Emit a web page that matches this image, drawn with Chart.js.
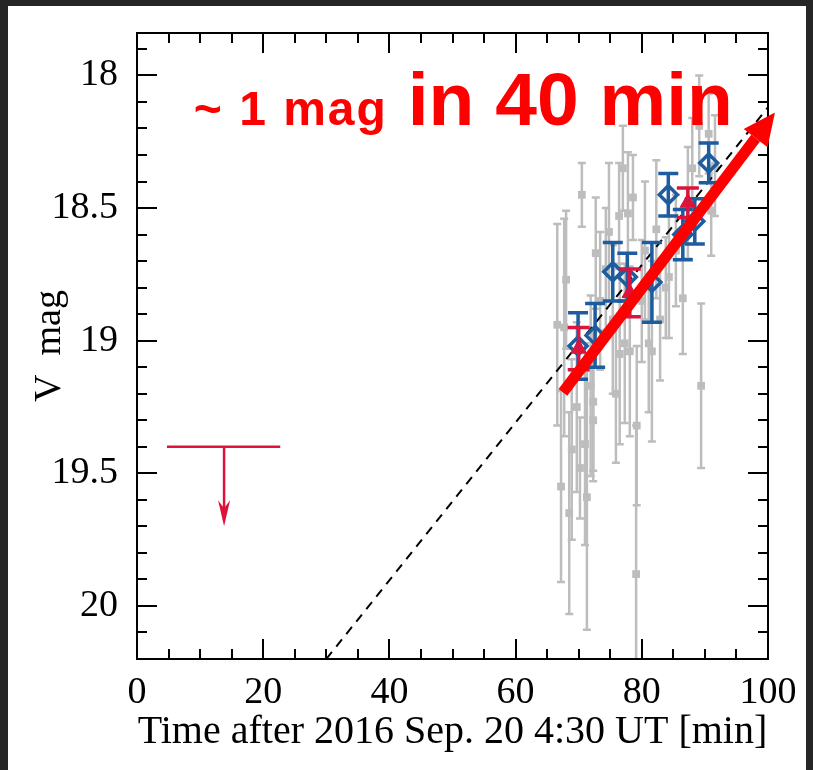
<!DOCTYPE html>
<html>
<head>
<meta charset="utf-8">
<script src="https://cdn.jsdelivr.net/npm/chart.js@4"></script>
<style>
html, body { margin: 0; padding: 0; background: #262626; }
#painel { position: absolute; left: 8px; top: 6px; width: 798px; height: 764px; background: #fff; }
#grafico { position: absolute; left: 0; top: 0; }
</style>
</head>
<body>
<div id="painel"></div>
<canvas id="grafico" width="813" height="770"></canvas>
<script>
/* Pontos cinzas (fotometria individual) */
const tempoCinza = [66.6, 67.7, 67.2, 68.0, 68.5, 68.9, 69.7, 70.5, 71.0, 71.3, 71.9, 72.3, 72.7, 74.8, 75.9, 76.4,
    76.5, 77.0, 77.3, 77.8, 78.1, 78.6, 79.1, 79.2, 81.1, 81.6, 82.3, 83.8, 84.3, 86.5, 88.0, 89.1, 89.4, 90.6,
    91.0, 70.2, 73.4, 74.3, 75.4, 80.0, 80.5, 82.9, 85.4, 87.3, 91.6, 72.3];
const magCinza = [18.94, 18.95, 19.55, 18.77, 19.65, 19.41, 19.25, 18.45, 19.39, 19.59, 19.17, 19.23, 18.67, 18.59,
    19.20, 18.53, 19.05, 18.35, 19.01, 18.52, 19.04, 18.46, 19.88, 19.32, 19.01, 19.04, 18.58, 18.80, 18.76, 18.84,
    18.35, 18.19, 19.17, 18.22, 18.51, 19.48, 18.85, 18.73, 18.92, 18.85, 18.66, 18.92, 18.66, 18.48, 18.34, 19.30];
const erroCinza = [0.38, 0.41, 0.36, 0.26, 0.38, 0.34, 0.32, 0.12, 0.38, 0.50, 0.34, 0.26, 0.21, 0.26, 0.26, 0.20,
    0.34, 0.16, 0.30, 0.23, 0.32, 0.16, 0.56, 0.30, 0.26, 0.34, 0.26, 0.19, 0.23, 0.21, 0.19, 0.19, 0.31, 0.15,
    0.17, 0.19, 0.26, 0.23, 0.28, 0.23, 0.26, 0.23, 0.21, 0.21, 0.19, 0.23];

/* Pontos azuis (losangos, médias) */
const tempoAzul = [69.9, 72.6, 75.4, 77.7, 81.6, 84.2, 86.5, 88.4, 90.6];
const magAzul = [19.02, 18.98, 18.74, 18.76, 18.78, 18.45, 18.60, 18.55, 18.33];
const erroAzul = [0.125, 0.12, 0.11, 0.09, 0.15, 0.08, 0.095, 0.085, 0.075];

/* Pontos vermelhos (triângulos) */
const tempoVermelho = [70.0, 78.1, 87.3];
const magVermelho = [19.03, 18.82, 18.48];
const erroVermelho = [0.08, 0.09, 0.056];

/* Limite superior (barra horizontal + seta para baixo) */
const limiteTempo = [4.75, 13.8, 22.7];
const limiteMag = [19.40, 19.70];

/* Reta de ajuste tracejada */
const ajusteTempo = [30, 100];
const ajusteMag = [20.2, 18.12];

/* Seta vermelha grande */
const setaTempo = [67.5, 101.1];
const setaMag = [19.195, 18.14];

/* Rótulos dos eixos */
const ticksX = [0, 20, 40, 60, 80, 100];
const ticksY = [18, 18.5, 19, 19.5, 20];

const pontos = (xs, ys) => xs.map((x, i) => ({ x: x, y: ys[i] }));

const fonteSerif = "'Liberation Serif', 'Times New Roman', serif";

/* Desenha as barras de erro antes dos pontos de cada conjunto */
const barrasErro = {
    id: "barrasErro",
    beforeDatasetDraw(chart, args) {
        const ds = chart.data.datasets[args.index];
        if (!ds.erros) return;
        const ctx = chart.ctx;
        const sx = chart.scales.x, sy = chart.scales.y;
        const a = chart.chartArea;
        ctx.save();
        ctx.beginPath();
        ctx.rect(a.left, a.top, a.right - a.left, a.bottom - a.top);
        ctx.clip();
        ctx.strokeStyle = ds.corErro;
        ctx.lineWidth = ds.larguraErro;
        ds.data.forEach((p, i) => {
            const px = sx.getPixelForValue(p.x);
            const y1 = sy.getPixelForValue(p.y - ds.erros[i]);
            const y2 = sy.getPixelForValue(p.y + ds.erros[i]);
            ctx.beginPath();
            ctx.moveTo(px, y1); ctx.lineTo(px, y2);
            ctx.moveTo(px - ds.capa, y1); ctx.lineTo(px + ds.capa, y1);
            ctx.moveTo(px - ds.capa, y2); ctx.lineTo(px + ds.capa, y2);
            ctx.stroke();
        });
        ctx.restore();
    },
};

/* Moldura, marcas dos eixos, limite superior, seta e texto */
const extras = {
    id: "extras",
    afterDatasetsDraw(chart) {
        const ctx = chart.ctx;
        const sx = chart.scales.x, sy = chart.scales.y;
        const a = chart.chartArea;
        ctx.save();
        ctx.strokeStyle = "#000";
        ctx.lineWidth = 2;
        ctx.strokeRect(a.left, a.top, a.right - a.left, a.bottom - a.top);
        // marcas no eixo x (principais a cada 20, menores a cada 5)
        for (let v = 0; v <= 100; v += 5) {
            const px = Math.round(sx.getPixelForValue(v));
            const len = v % 20 === 0 ? 20 : 10;
            ctx.beginPath();
            ctx.moveTo(px, a.bottom); ctx.lineTo(px, a.bottom - len);
            ctx.moveTo(px, a.top); ctx.lineTo(px, a.top + len);
            ctx.stroke();
        }
        // marcas no eixo y (principais a cada 0.5, menores a cada 0.1)
        for (let k = 179; k <= 202; k++) {
            const v = k / 10;
            const py = Math.round(sy.getPixelForValue(v));
            if (py < a.top || py > a.bottom) continue;
            const len = k % 5 === 0 ? 20 : 10;
            ctx.beginPath();
            ctx.moveTo(a.left, py); ctx.lineTo(a.left + len, py);
            ctx.moveTo(a.right, py); ctx.lineTo(a.right - len, py);
            ctx.stroke();
        }

        // limite superior
        const lx1 = sx.getPixelForValue(limiteTempo[0]);
        const lxm = sx.getPixelForValue(limiteTempo[1]);
        const lx2 = sx.getPixelForValue(limiteTempo[2]);
        const ly1 = sy.getPixelForValue(limiteMag[0]);
        const ly2 = sy.getPixelForValue(limiteMag[1]);
        ctx.strokeStyle = "#dc143c";
        ctx.fillStyle = "#dc143c";
        ctx.lineWidth = 2.5;
        ctx.beginPath();
        ctx.moveTo(lx1, ly1); ctx.lineTo(lx2, ly1);
        ctx.moveTo(lxm, ly1); ctx.lineTo(lxm, ly2 - 10);
        ctx.stroke();
        ctx.beginPath();
        ctx.moveTo(lxm, ly2);
        ctx.lineTo(lxm - 6, ly2 - 26);
        ctx.lineTo(lxm, ly2 - 18);
        ctx.lineTo(lxm + 6, ly2 - 26);
        ctx.closePath();
        ctx.fill();

        // seta vermelha grande
        const x0 = sx.getPixelForValue(setaTempo[0]), y0 = sy.getPixelForValue(setaMag[0]);
        const x1 = sx.getPixelForValue(setaTempo[1]), y1 = sy.getPixelForValue(setaMag[1]);
        const ang = Math.atan2(y1 - y0, x1 - x0);
        const cab = 32, meia = 15;
        const bx = x1 - cab * Math.cos(ang), by = y1 - cab * Math.sin(ang);
        ctx.strokeStyle = "#ff0000";
        ctx.fillStyle = "#ff0000";
        ctx.lineWidth = 11;
        ctx.beginPath();
        ctx.moveTo(x0, y0); ctx.lineTo(bx, by);
        ctx.stroke();
        ctx.beginPath();
        ctx.moveTo(x1, y1);
        ctx.lineTo(bx + meia * Math.sin(ang), by - meia * Math.cos(ang));
        ctx.lineTo(bx - meia * Math.sin(ang), by + meia * Math.cos(ang));
        ctx.closePath();
        ctx.fill();

        // texto em vermelho
        const base = sy.getPixelForValue(18.185);
        ctx.textBaseline = "alphabetic";
        ctx.textAlign = "left";
        ctx.font = "bold 48px 'Liberation Sans', Arial, sans-serif";
        ctx.letterSpacing = "2px";
        ctx.fillText("~ 1 mag", sx.getPixelForValue(9.0), base);
        ctx.letterSpacing = "0px";
        ctx.font = "bold 75px 'Liberation Sans', Arial, sans-serif";
        ctx.fillText("in 40 min", sx.getPixelForValue(42.9), base);
        ctx.restore();
    },
};

const grafico = new Chart(document.getElementById("grafico"), {
    type: "scatter",
    data: {
        datasets: [
            {
                // pontos cinzas
                data: pontos(tempoCinza, magCinza),
                erros: erroCinza, corErro: "#bdbdbd", larguraErro: 2.5, capa: 4,
                pointStyle: "rect", pointRadius: 5.5, pointHoverRadius: 5.5,
                backgroundColor: "#bdbdbd", borderColor: "#bdbdbd", borderWidth: 0,
                order: 5,
            },
            {
                // reta tracejada
                type: "line",
                data: pontos(ajusteTempo, ajusteMag),
                borderColor: "#000", borderWidth: 2, borderDash: [9, 7],
                pointRadius: 0, fill: false, showLine: true,
                order: 4,
            },
            {
                // losangos azuis
                data: pontos(tempoAzul, magAzul),
                erros: erroAzul, corErro: "#1d5c9e", larguraErro: 3.5, capa: 10,
                pointStyle: "rectRot", pointRadius: 9, pointHoverRadius: 9,
                backgroundColor: "rgba(0,0,0,0)", borderColor: "#1d5c9e", borderWidth: 3.5,
                order: 3,
            },
            {
                // triângulos vermelhos
                data: pontos(tempoVermelho, magVermelho),
                erros: erroVermelho, corErro: "#dc143c", larguraErro: 3.5, capa: 11,
                pointStyle: "triangle", pointRadius: 9, pointHoverRadius: 9,
                backgroundColor: "#dc143c", borderColor: "#dc143c", borderWidth: 1,
                order: 2,
            },
        ],
    },
    options: {
        responsive: false,
        animation: false,
        events: [],
        layout: { padding: { left: 0, top: 33, right: 45, bottom: 0 } },
        plugins: { legend: { display: false }, tooltip: { enabled: false } },
        scales: {
            x: {
                type: "linear", min: 0, max: 100,
                afterBuildTicks: (s) => { s.ticks = ticksX.map((v) => ({ value: v })); },
                afterFit: (s) => { s.height = 111; s.paddingLeft = 0; s.paddingRight = 0; },
                grid: { display: false, drawTicks: false },
                border: { display: false },
                ticks: { color: "#000", padding: 11, font: { family: fonteSerif, size: 38 }, maxRotation: 0 },
                title: {
                    display: true, text: "Time after 2016 Sep. 20 4:30 UT [min]", color: "#000",
                    font: { family: fonteSerif, size: 40 }, padding: { top: 0, bottom: 14 },
                },
            },
            y: {
                type: "linear", min: 17.84, max: 20.2, reverse: true,
                afterBuildTicks: (s) => { s.ticks = ticksY.map((v) => ({ value: v })); },
                afterFit: (s) => { s.width = 137; s.paddingTop = 0; s.paddingBottom = 0; },
                grid: { display: false, drawTicks: false },
                border: { display: false },
                ticks: { color: "#000", padding: 19, font: { family: fonteSerif, size: 38 }, callback: (v) => String(v) },
                title: {
                    display: true, text: "V  mag", color: "#000",
                    font: { family: fonteSerif, size: 38 }, padding: { top: 27, bottom: 0 },
                },
            },
        },
    },
    plugins: [barrasErro, extras],
});
</script>
</body>
</html>
